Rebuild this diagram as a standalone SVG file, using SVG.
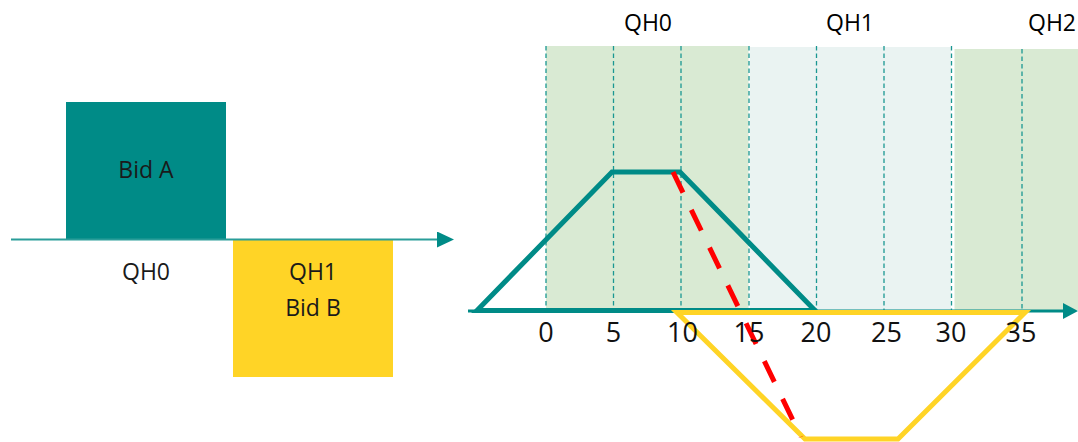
<svg xmlns="http://www.w3.org/2000/svg" width="1078" height="442" viewBox="0 0 1078 442">
  <defs>
    <style>
      .lbl { font-family: "Open Sans", "Noto Sans", "DejaVu Sans", sans-serif; font-size: 23px; text-anchor: middle; fill: #1a1a1a; }
      .top { fill: #000; }
      .tick { font-family: "Open Sans", "Noto Sans", "DejaVu Sans", sans-serif; font-size: 27px; text-anchor: middle; fill: #111; }
      .grid { stroke: #1a9792; stroke-width: 1.3; stroke-dasharray: 4.5 3; fill: none; }
      .teal { stroke: #008b87; stroke-width: 5; fill: none; stroke-linejoin: miter; }
      .yellow { stroke: #ffd426; stroke-width: 5; fill: none; }
    </style>
    <marker id="arrowSmall" viewBox="0 0 17 16" refX="0" refY="8" markerWidth="17" markerHeight="16" markerUnits="userSpaceOnUse" orient="auto">
      <path d="M0,0 L17,8 L0,16 Z" fill="#008b87"/>
    </marker>
    <marker id="arrowBig" viewBox="0 0 15 16" refX="0" refY="8" markerWidth="15" markerHeight="16" markerUnits="userSpaceOnUse" orient="auto">
      <path d="M0,0 L15,8 L0,16 Z" fill="#008b87"/>
    </marker>
  </defs>

  <!-- Left chart -->
  <g id="bid-a">
    <rect x="66" y="102" width="160" height="137.5" fill="#008b87"/>
    <text class="lbl" x="146" y="178">Bid A</text>
  </g>
  <g id="bid-b">
    <rect x="233" y="239.5" width="160" height="137.5" fill="#ffd426"/>
    <text class="lbl" x="313" y="280">QH1</text>
    <text class="lbl" x="313" y="316">Bid B</text>
  </g>
  <g id="label-qh0-left">
    <text class="lbl" x="146" y="280">QH0</text>
  </g>

  <!-- Right chart background -->
  <g id="backgrounds">
    <rect x="546" y="46" width="202.5" height="264" fill="#d9ead3"/>
    <rect x="750" y="47" width="201" height="263" fill="#eaf3f2"/>
    <rect x="954.5" y="49" width="123.5" height="261" fill="#d9ead3"/>
  </g>
  <g id="grid">
    <line class="grid" x1="546" y1="46" x2="546" y2="310"/>
    <line class="grid" x1="613.5" y1="46" x2="613.5" y2="310"/>
    <line class="grid" x1="681" y1="46" x2="681" y2="310"/>
    <line class="grid" x1="749" y1="46" x2="749" y2="310"/>
    <line class="grid" x1="816.5" y1="46" x2="816.5" y2="310"/>
    <line class="grid" x1="884" y1="46" x2="884" y2="310"/>
    <line class="grid" x1="951.5" y1="46" x2="951.5" y2="310"/>
    <line class="grid" x1="1022" y1="49" x2="1022" y2="310"/>
  </g>
  <g id="top-labels">
    <text class="lbl top" x="648" y="31">QH0</text>
    <text class="lbl top" x="850" y="31">QH1</text>
    <text class="lbl top" x="1052" y="31">QH2</text>
  </g>

  <!-- Connectors / axes -->
  <g id="connectors">
    <line x1="11" y1="239.5" x2="437" y2="239.5" stroke="#2a9d99" stroke-width="1.8" marker-end="url(#arrowSmall)"/>
    <line x1="468" y1="311" x2="1063" y2="311" stroke="#008b87" stroke-width="3" marker-end="url(#arrowBig)"/>
  </g>

  <g id="ramp-a">
    <polygon class="teal" points="477,310.5 612,172 680,172 815,310.5"/>
  </g>
  <g id="ramp-b">
    <polygon class="yellow" points="677,312.5 1025,312.5 898,439 805,439"/>
  </g>
  <g id="red-dash">
    <line x1="673" y1="172" x2="801" y2="437" stroke="#ff0000" stroke-width="5" stroke-dasharray="23 19"/>
  </g>

  <g id="ticks">
    <text class="tick" x="546" y="342">0</text>
    <text class="tick" x="613.5" y="342">5</text>
    <text class="tick" x="682.5" y="342">10</text>
    <text class="tick" x="749" y="342">15</text>
    <text class="tick" x="816" y="342">20</text>
    <text class="tick" x="886.5" y="342">25</text>
    <text class="tick" x="951" y="342">30</text>
    <text class="tick" x="1021" y="342">35</text>
  </g>
</svg>
